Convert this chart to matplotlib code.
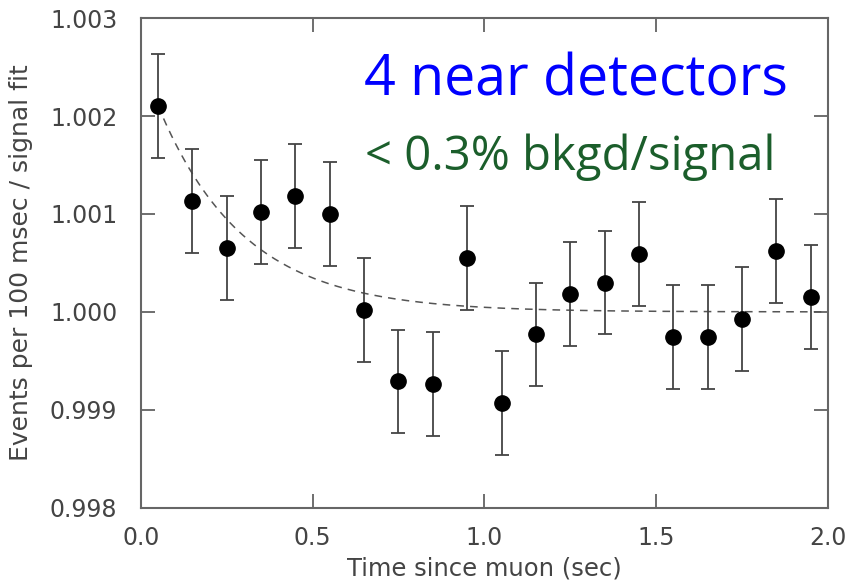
import numpy as np
import matplotlib
matplotlib.use("Agg")
import matplotlib.pyplot as plt

# bin centres (sec) and ratio events / signal fit
t = [0.05, 0.15, 0.25, 0.35, 0.45, 0.55, 0.65, 0.75, 0.85, 0.95,
     1.05, 1.15, 1.25, 1.35, 1.45, 1.55, 1.65, 1.75, 1.85, 1.95]
ratio = [1.00210, 1.00113, 1.00065, 1.00102, 1.00118, 1.00100, 1.00002, 0.99929, 0.99926, 1.00055,
         0.99907, 0.99977, 1.00018, 1.00030, 1.00059, 0.99974, 0.99974, 0.99993, 1.00062, 1.00015]
err = [0.00053] * 20

# background fit: 1 + amp * exp(-t / tau), drawn from the first bin onward
fit_amp = 0.00257
fit_tau = 0.25
fit_start, fit_end = 0.05, 2.0

xticks = [0.0, 0.5, 1.0, 1.5, 2.0]
yticks = [0.998, 0.999, 1.000, 1.001, 1.002, 1.003]

fig = plt.figure(figsize=(8.49, 5.85), dpi=100)
ax = fig.add_axes([0.166, 0.132, 0.809, 0.837])

tf = np.linspace(fit_start, fit_end, 300)
ax.plot(tf, 1 + fit_amp * np.exp(-tf / fit_tau), color="#555555", lw=1.1,
        dashes=(5, 4), zorder=1)

ax.errorbar(t, ratio, yerr=err, fmt="o", color="black", ms=11, mec="black",
            ecolor="#444444", elinewidth=1.3, capsize=5, capthick=1.3, zorder=3)

ax.set_xlim(0, 2.0)
ax.set_ylim(0.998, 1.003)
ax.set_xticks(xticks)
ax.set_yticks(yticks)
ax.set_xticklabels([f"{v:.1f}" for v in xticks])
ax.set_yticklabels([f"{v:.3f}" for v in yticks])

txt_col = "#444444"
for lbl in ax.get_xticklabels() + ax.get_yticklabels():
    lbl.set_fontsize(17)
    lbl.set_color(txt_col)

ax.tick_params(direction="in", length=10, width=1.2, color="#555555",
               top=True, right=True)
ax.tick_params(axis="x", pad=13)
ax.tick_params(axis="y", pad=17)
for s in ax.spines.values():
    s.set_color("#666666")
    s.set_linewidth(1.5)

ax.set_xlabel("Time since muon (sec)", fontsize=17.5, color=txt_col)
ax.set_ylabel("Events per 100 msec / signal fit", fontsize=18, color=txt_col)
ax.xaxis.set_label_coords(0.5, -0.1)
ax.yaxis.set_label_coords(-0.157, 0.5)

ax.text(0.942, 0.843, "4 near detectors", transform=ax.transAxes, ha="right",
        va="baseline", fontsize=40, color="#0000ff", family="Open Sans")
ax.text(0.923, 0.690, "< 0.3% bkgd/signal", transform=ax.transAxes, ha="right",
        va="baseline", fontsize=34, color="#1b5e2b", family="Open Sans")

fig.savefig("out.png", dpi=100, facecolor="white")
